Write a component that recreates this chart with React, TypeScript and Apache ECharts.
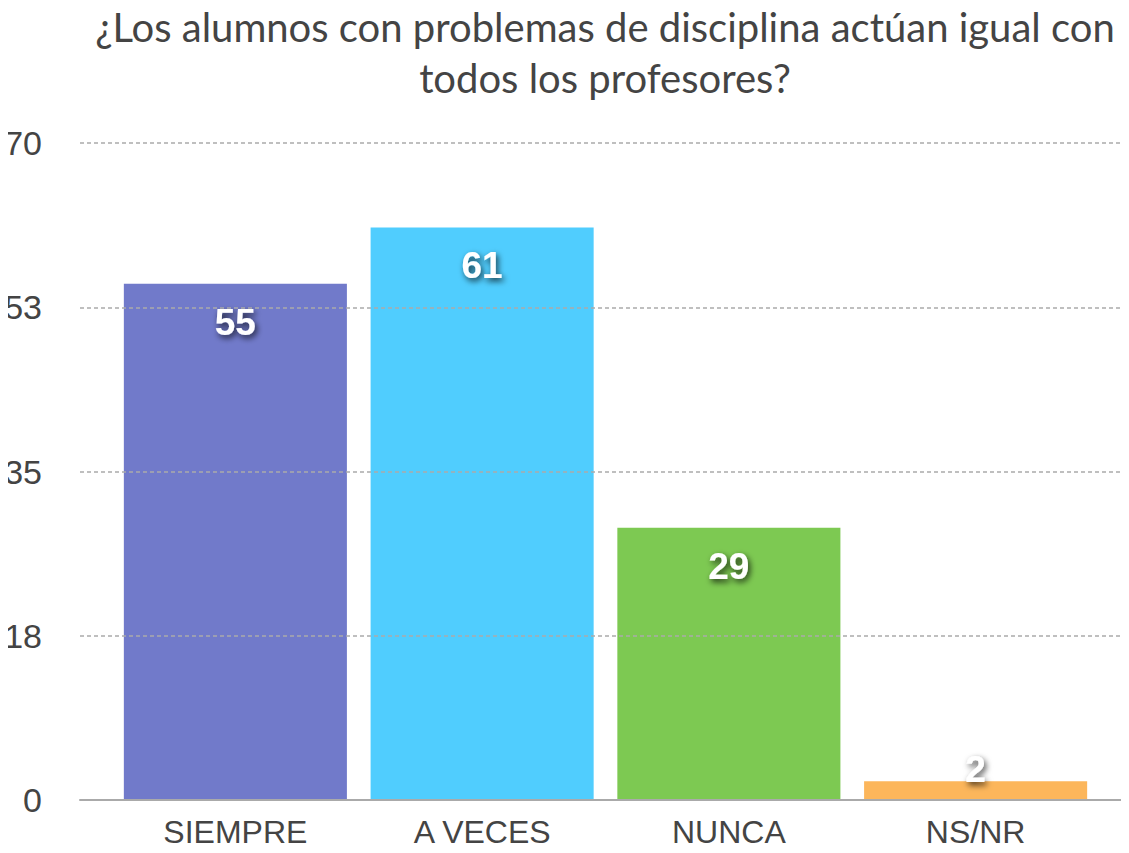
import React, { useEffect, useRef } from "react";
import * as echarts from "echarts";

const titleText = "¿Los alumnos con problemas de disciplina actúan igual con\ntodos los profesores?";
const categories = ["SIEMPRE", "A VECES", "NUNCA", "NS/NR"];
const values = [55, 61, 29, 2];
const colors = ["#717ACA", "#50CDFE", "#7DC952", "#FCB65B"];
const yMin = 0;
const yMax = 70;
const yInterval = 17.5;

export default function App() {
  const ref = useRef<HTMLDivElement>(null);
  useEffect(() => {
    const chart = echarts.init(ref.current!, null, { renderer: "svg" });
    const labelBase = {
      show: true,
      color: "#fff",
      fontFamily: "Liberation Sans, Arial, sans-serif",
      fontWeight: "bold" as const,
      fontSize: 37,
      textShadowColor: "rgba(0,0,0,0.75)",
      textShadowBlur: 6,
      textShadowOffsetX: 2,
      textShadowOffsetY: 3,
    };
    chart.setOption({
      animation: false,
      backgroundColor: "#fff",
      title: {
        text: titleText,
        left: 600,
        top: -4,
        textAlign: "center",
        textStyle: {
          fontFamily: "Lato, sans-serif",
          fontWeight: "normal",
          fontSize: 40,
          lineHeight: 51,
          color: "#444",
        },
      },
      grid: [
        { left: 80, right: 0, top: 143, bottom: 53 },
        { left: 112, right: 30, top: 143, bottom: 53 },
      ],
      xAxis: [
        {
          gridIndex: 0,
          type: "category",
          data: [""],
          z: 10,
          axisLine: { show: true, lineStyle: { color: "#aaa", width: 2 } },
          axisTick: { show: false },
          axisLabel: { show: false },
          splitLine: { show: false },
        },
        {
          gridIndex: 1,
          type: "category",
          data: categories,
          axisLine: { show: false },
          axisTick: { show: false },
          axisLabel: {
            margin: 16,
            fontFamily: "Liberation Sans, Arial, sans-serif",
            fontSize: 32,
            color: "#444",
          },
        },
      ],
      yAxis: [
        {
          gridIndex: 0,
          type: "value",
          min: yMin,
          max: yMax,
          interval: yInterval,
          z: 10,
          axisLine: { show: false },
          axisTick: { show: false },
          axisLabel: {
            margin: 38,
            fontFamily: "Liberation Sans, Arial, sans-serif",
            fontSize: 34,
            color: "#444",
            formatter: (v: number) => String(Math.round(v)),
          },
          splitLine: {
            show: true,
            lineStyle: { color: "#aaa", type: [4, 3], width: 1.5 },
          },
        },
        {
          gridIndex: 1,
          type: "value",
          min: yMin,
          max: yMax,
          show: false,
          splitLine: { show: false },
        },
      ],
      series: [
        {
          type: "bar",
          xAxisIndex: 1,
          yAxisIndex: 1,
          barCategoryGap: "9.6%",
          data: values.map((v, i) => ({
            value: v,
            itemStyle: { color: colors[i] },
            label:
              v > 10
                ? { ...labelBase, position: "insideTop", distance: 20 }
                : { ...labelBase, position: "top", distance: -7 },
          })),
        },
      ],
    });
    return () => chart.dispose();
  }, []);
  return <div ref={ref} style={{ width: 1129, height: 853, margin: -8 }} />;
}
